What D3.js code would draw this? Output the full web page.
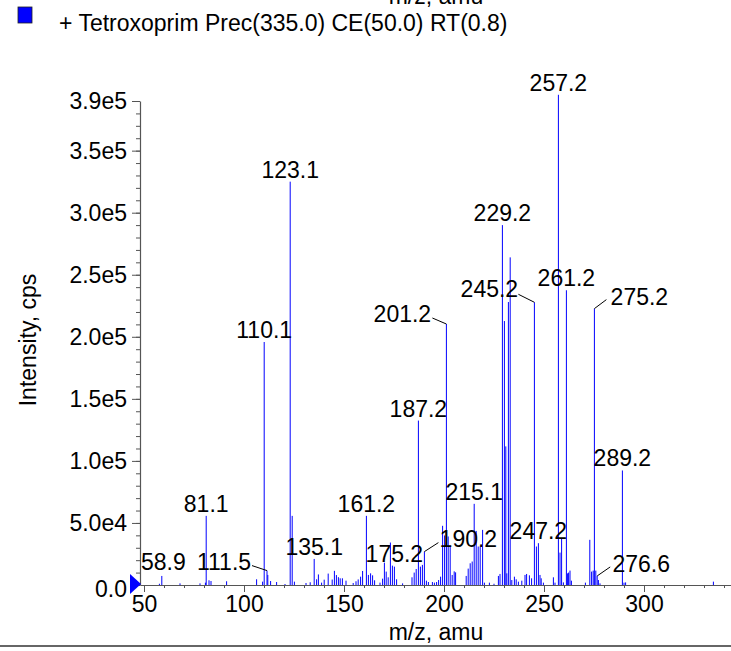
<!DOCTYPE html>
<html>
<head>
<meta charset="utf-8">
<script src="https://cdn.jsdelivr.net/npm/d3@7"></script>
<style>
  html, body { margin: 0; padding: 0; background: #fff; }
  svg { display: block; font-family: "Liberation Sans", Arial, Helvetica, sans-serif; }
</style>
</head>
<body>
<svg id="chart" width="731" height="651"></svg>
<script>
// ---------- data ----------
const legendLabel = "+ Tetroxoprim Prec(335.0) CE(50.0) RT(0.8)";
const xTitle = "m/z, amu";
const yTitle = "Intensity, cps";

const mzValues = [
  57.7, 58.9, 68.0, 78.0, 80.7, 81.1, 82.5, 83.5, 91.3, 106.3,
  109.3, 110.1, 111.5, 111.9, 113.3, 116.3, 120.5, 123.1, 124.1, 125.2,
  131.0, 133.1, 135.1, 136.3, 137.2, 138.8, 140.1, 142.1, 144.1, 145.2,
  146.2, 147.2, 148.1, 149.2, 151.0, 154.6, 156.0, 157.1, 158.3, 159.3,
  161.2, 162.2, 163.3, 164.3, 165.3, 168.0, 169.3, 170.2, 171.1, 172.1,
  173.2, 174.2, 175.2, 176.3, 179.3, 184.0, 185.1, 186.1, 187.2, 188.2,
  189.2, 190.2, 191.2, 192.2, 194.2, 195.2, 196.3, 197.3, 198.3, 199.3,
  200.3, 201.2, 202.1, 203.1, 204.1, 205.1, 205.8, 211.1, 212.1, 213.1,
  214.1, 215.1, 216.1, 217.1, 218.1, 219.3, 220.2, 222.7, 225.0, 227.2,
  228.0, 229.2, 230.2, 230.9, 231.4, 232.2, 233.1, 233.9, 235.2, 236.1,
  237.2, 238.9, 240.5, 241.3, 242.7, 243.8, 245.2, 246.2, 247.2, 248.0,
  248.6, 249.7, 254.7, 255.5, 257.2, 258.0, 258.8, 259.7, 261.2, 261.8,
  262.3, 263.0, 263.7, 270.7, 272.9, 273.8, 274.6, 275.2, 275.9, 276.6,
  277.2, 278.0, 289.2, 290.0, 290.8, 334.7
];
const intensities = [
  1000, 7300, 1300, 1300, 1900, 55700, 3800, 3200, 3000, 4600,
  2700, 195800, 11600, 8100, 3200, 2400, 800, 325000, 55700, 2700,
  1600, 2200, 21000, 4600, 8500, 1900, 4300, 9200, 4400, 11400,
  8000, 6300, 5400, 5400, 3500, 1600, 3000, 4500, 6700, 11300,
  55700, 8100, 9400, 7800, 3800, 1900, 5100, 18000, 10800, 6200,
  34200, 15600, 14800, 4600, 1300, 6200, 10000, 12900, 132500, 14800,
  16200, 26900, 3500, 2400, 2400, 1900, 2400, 4000, 6700, 47700,
  39900, 210300, 39100, 31800, 8100, 11000, 10200, 7300, 13200, 17500,
  18900, 65400, 43600, 31000, 31000, 44400, 1900, 1900, 1000, 7300,
  8900, 290000, 212700, 111700, 9400, 228000, 264000, 4000, 6700, 4600,
  2700, 3500, 8100, 8900, 7800, 5400, 227800, 31000, 33700, 8100,
  5400, 1900, 6200, 1900, 395000, 26100, 37700, 2100, 237500, 9400,
  10000, 11600, 3500, 1900, 36400, 10800, 11600, 222700, 11600, 7300,
  4000, 1300, 92300, 1900, 2100, 2700
];

const peakLabels = ["58.9", "81.1", "110.1", "111.5", "123.1", "135.1", "161.2", "175.2",
  "187.2", "190.2", "201.2", "215.1", "229.2", "245.2", "247.2", "257.2",
  "261.2", "275.2", "276.6", "289.2"];

const xMajorTicks = [50, 100, 150, 200, 250, 300];
const xMajorLabels = ["50", "100", "150", "200", "250", "300"];
const yMajorTicks = [0, 50000, 100000, 150000, 200000, 250000, 300000, 350000, 390000];
const yMajorLabels = ["0.0", "5.0e4", "1.0e5", "1.5e5", "2.0e5", "2.5e5", "3.0e5", "3.5e5", "3.9e5"];

// ---------- layout ----------
const W = 731, H = 651;
const plot = { left: 140, right: 731, top: 101, bottom: 585 };
const xDomain = [48, 343.5];
const yDomain = [0, 390000];
const fontSize = 23;
const blue = "#0000ff";
const axisColor = "#555";

// label placement relative to the bar top (text centre / baseline), optional leader line end
const labelLayout = {
  "58.9":  { dx: 1.5, dy: -6 },
  "111.5": { dx: -43, dy: -0.5, lx: -15, ly: -5 },
  "201.2": { dx: -44, dy: -2, lx: -14, ly: -6 },
  "245.2": { dx: -45, dy: -5, lx: -16, ly: -8 },
  "275.2": { dx: 45, dy: -4, lx: 12, ly: -9 },
  "190.2": { dx: 44, dy: -5, lx: 14, ly: -9 },
  "276.6": { dx: 44, dy: -4, lx: 13, ly: -9 },
  "175.2": { dx: 0, dy: -5 }
};

const svg = d3.select("#chart");

const x = d3.scaleLinear().domain(xDomain).range([plot.left, plot.right]);
const y = d3.scaleLinear().domain(yDomain).range([plot.bottom, plot.top]);

const peaks = mzValues.map((m, i) => ({ mz: m, v: intensities[i] }));

// clipped title of the panel above (cut off at the top, as in the reference)
svg.append("text")
  .attr("x", 436).attr("y", 4)
  .attr("text-anchor", "middle")
  .attr("font-size", fontSize)
  .attr("fill", "#000")
  .text(xTitle);

// legend
svg.append("rect")
  .attr("x", 18).attr("y", 7).attr("width", 14).attr("height", 16)
  .attr("fill", blue).attr("stroke", "#222").attr("stroke-width", 0.8);
svg.append("text")
  .attr("x", 59).attr("y", 31)
  .attr("font-size", fontSize)
  .attr("fill", "#000")
  .text(legendLabel);

// bars
svg.append("g")
  .selectAll("line")
  .data(peaks)
  .join("line")
  .attr("x1", d => x(d.mz)).attr("x2", d => x(d.mz))
  .attr("y1", y(0)).attr("y2", d => y(d.v))
  .attr("stroke", blue)
  .attr("stroke-width", 1);

// y axis minor
const yMinor = d3.range(0, 390001, 10000);
const yAxisMinor = d3.axisLeft(y).tickValues(yMinor).tickSize(4).tickFormat("");
const gyMin = svg.append("g").attr("transform", `translate(${plot.left},0)`).call(yAxisMinor);
gyMin.select(".domain").remove();
gyMin.selectAll("line").attr("stroke", axisColor);

const yAxis = d3.axisLeft(y)
  .tickValues(yMajorTicks)
  .tickSize(8).tickSizeOuter(0)
  .tickPadding(5)
  .tickFormat((d, i) => yMajorLabels[i]);
const gy = svg.append("g").attr("transform", `translate(${plot.left},0)`).call(yAxis);
gy.select(".domain").attr("stroke", axisColor).attr("stroke-width", 1.2);
gy.selectAll("line").attr("stroke", axisColor);
gy.selectAll("text").attr("font-size", fontSize).attr("font-family", "Liberation Sans, Arial, sans-serif").attr("fill", "#000");
gy.selectAll("text").filter(d => d === 0).attr("dy", "0.5em");

// x axis minor
const xMinor = d3.range(50, 341, 10);
const xAxisMinor = d3.axisBottom(x).tickValues(xMinor).tickSize(3).tickFormat("");
const gxMin = svg.append("g").attr("transform", `translate(0,${plot.bottom})`).call(xAxisMinor);
gxMin.select(".domain").remove();
gxMin.selectAll("line").attr("stroke", axisColor);

const xAxis = d3.axisBottom(x)
  .tickValues(xMajorTicks)
  .tickSize(7).tickSizeOuter(0)
  .tickPadding(4)
  .tickFormat((d, i) => xMajorLabels[i]);
const gx = svg.append("g").attr("transform", `translate(0,${plot.bottom})`).call(xAxis);
gx.select(".domain").attr("stroke", axisColor).attr("stroke-width", 1.2);
gx.selectAll("line").attr("stroke", axisColor);
gx.selectAll("text").attr("font-size", fontSize).attr("font-family", "Liberation Sans, Arial, sans-serif").attr("fill", "#000");

// origin marker
svg.append("path")
  .attr("d", d3.line()([[plot.left - 10, y(0) - 11], [plot.left - 10, y(0) + 9], [plot.left + 1, y(0) - 1]]) + "Z")
  .attr("fill", blue);

// peak labels
const labelled = peakLabels.map(l => {
  const m = +l;
  const p = peaks.find(q => Math.abs(q.mz - m) < 0.05);
  return { label: l, mz: m, v: p ? p.v : 0 };
});
const lg = svg.append("g");
labelled.forEach(d => {
  const lay = labelLayout[d.label] || { dx: 0, dy: -4 };
  const bx = x(d.mz), by = y(d.v);
  lg.append("text")
    .attr("x", bx + lay.dx).attr("y", by + lay.dy)
    .attr("text-anchor", "middle")
    .attr("font-size", fontSize)
    .attr("fill", "#000")
    .text(d.label);
  if (lay.lx !== undefined) {
    lg.append("line")
      .attr("x1", bx).attr("y1", by)
      .attr("x2", bx + lay.lx).attr("y2", by + lay.ly)
      .attr("stroke", "#000").attr("stroke-width", 1);
  }
});

// axis titles
svg.append("text")
  .attr("x", 436).attr("y", 640)
  .attr("text-anchor", "middle")
  .attr("font-size", fontSize)
  .attr("fill", "#000")
  .text(xTitle);
svg.append("text")
  .attr("transform", `translate(36,340) rotate(-90)`)
  .attr("text-anchor", "middle")
  .attr("font-size", fontSize)
  .attr("fill", "#000")
  .text(yTitle);

// bottom separator line
svg.append("line")
  .attr("x1", 0).attr("x2", W)
  .attr("y1", 646).attr("y2", 646)
  .attr("stroke", "#333").attr("stroke-width", 1.5);
</script>
</body>
</html>
